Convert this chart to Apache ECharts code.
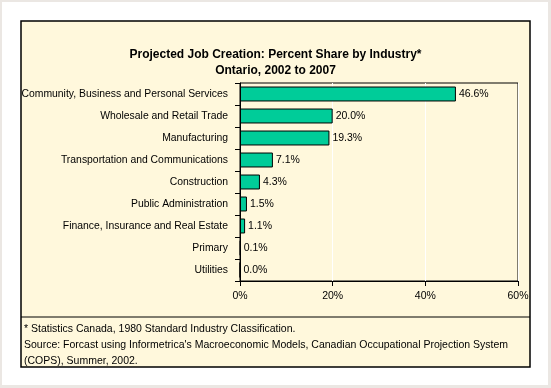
<!DOCTYPE html>
<html><head><meta charset="utf-8">
<script src="https://cdn.jsdelivr.net/npm/echarts@6/dist/echarts.min.js"></script>
<style>html,body{margin:0;padding:0;background:#ebe7e3;}#c{width:551px;height:388px;}</style>
</head><body><div id="c"></div>
<script>
var categories = ["Community, Business and Personal Services","Wholesale and Retail Trade","Manufacturing","Transportation and Communications","Construction","Public Administration","Finance, Insurance and Real Estate","Primary","Utilities"];
var shares = [46.6, 20.0, 19.3, 7.1, 4.3, 1.5, 1.1, 0.1, 0.0];
var xTicks = [0, 20, 40, 60];
var titleText = "Projected Job Creation: Percent Share by Industry*\nOntario, 2002 to 2007";
var footLines = ["* Statistics Canada, 1980 Standard Industry Classification.","Source: Forcast using Informetrica's Macroeconomic Models, Canadian Occupational Projection System","(COPS), Summer, 2002."];

var chart = echarts.init(document.getElementById('c'), null, {renderer:'canvas'});
var FONT = 'Liberation Sans, Arial, sans-serif';
chart.setOption({
  animation:false,
  backgroundColor:'#ebe7e3',
  graphic:[
    {type:'rect', shape:{x:2,y:2,width:546,height:383}, style:{fill:'#ffffff'}, z:-10},
    {type:'rect', shape:{x:21,y:21,width:509,height:346}, style:{fill:'#fff8dc', stroke:'#000', lineWidth:1.5}, z:-9},
    {type:'line', shape:{x1:21,y1:317,x2:530,y2:317}, style:{stroke:'#000', lineWidth:1}, z:-8},
    {type:'text', left:24, top:321, style:{text:footLines.join('\n'), font:'10.5px '+FONT, fill:'#000', lineHeight:16}}
  ],
  title:{text:titleText, left:'center', top:42, textStyle:{fontSize:12, fontWeight:'bold', fontFamily:FONT, color:'#000', lineHeight:16}},
  grid:{left:240, top:83, right:33, bottom:107, show:true, backgroundColor:'#fff8dc', borderColor:'#000', borderWidth:1},
  xAxis:{type:'value', min:xTicks[0], max:xTicks[xTicks.length-1], interval:20,
    axisLine:{show:true, lineStyle:{color:'#000'}},
    axisTick:{show:true, length:5, lineStyle:{color:'#000'}},
    axisLabel:{formatter:'{value}%', fontSize:10.5, fontFamily:FONT, color:'#000', margin:10},
    splitLine:{show:true, lineStyle:{color:'#ffffff', width:1}}},
  yAxis:{type:'category', data:categories, inverse:true,
    axisLine:{show:true, lineStyle:{color:'#000'}},
    axisTick:{show:true, length:5, lineStyle:{color:'#000'}},
    axisLabel:{fontSize:10.4, fontFamily:FONT, color:'#000', margin:12}},
  series:[{type:'bar', data:shares, barCategoryGap:'32%',
    itemStyle:{color:'#00cc99', borderColor:'#000', borderWidth:1},
    label:{show:true, position:'right', distance:3, fontSize:10.5, fontFamily:FONT, color:'#000',
      formatter:function(p){return p.value.toFixed(1)+'%';}}}]
});
</script></body></html>
